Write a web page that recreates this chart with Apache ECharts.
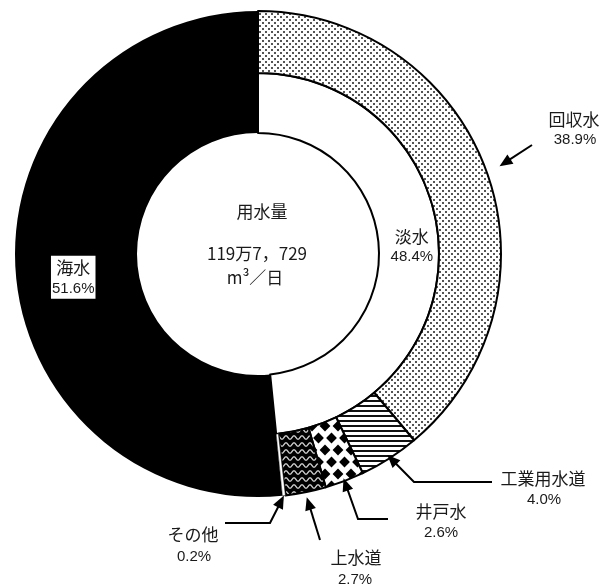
<!DOCTYPE html>
<html>
<head>
<meta charset="utf-8">
<script src="https://cdn.jsdelivr.net/npm/echarts@6/dist/echarts.min.js"></script>
<style>
  html, body { margin: 0; padding: 0; background: #fff; }
  #chart { width: 602px; height: 586px; }
</style>
</head>
<body>
<div id="chart"></div>
<script>
// ---- data ----
const sourceNames = ['回収水', '工業用水道', '井戸水', '上水道', 'その他'];
const sourceValues = [38.9, 4.0, 2.6, 2.7, 0.2];
const freshName = '淡水';
const freshValue = 48.4;
const seaName = '海水';
const seaValue = 51.6;
const totalTitle = '用水量';
const totalAmount = '119万7，729';
const totalUnit = 'm³／日';

// ---- layout ----
const CX = 258, CY = 254;
const R_IN = 121, R_MID = 181, R_OUT = 243;
const NAME_FONT = '"Noto Sans CJK JP", sans-serif';
const NUM_FONT = '"Liberation Sans", Arial, sans-serif';
const TEXT_COLOR = '#1a1a1a';

// callout leader paths (points before the arrow tip) and label anchors
const calloutLayout = [
  { tail: [[532, 145]], tipR: 257, nameAt: [574, 120], pctAt: [575, 140] },
  { tail: [[492, 482], [414, 482]], tipR: 239, nameAt: [543, 479], pctAt: [544, 500] },
  { tail: [[388, 519], [358, 519]], tipR: 240, nameAt: [441, 512], pctAt: [441, 533] },
  { tail: [[320, 540]], tipR: 248, nameAt: [356, 558], pctAt: [355, 580] },
  { tail: [[225, 523], [270, 523]], tipR: 243, nameAt: [193, 535], pctAt: [194, 557] }
];

// ---- fill patterns ----
function makeTile(w, h, draw) {
  const c = document.createElement('canvas');
  c.width = w; c.height = h;
  draw(c.getContext('2d'), w, h);
  return c;
}
const dotTile = makeTile(6, 6, (g, w, h) => {
  g.fillStyle = '#fff'; g.fillRect(0, 0, w, h);
  g.fillStyle = '#555';
  g.fillRect(1, 1, 2, 2);
  g.fillRect(4, 4, 2, 2);
});
const lineTile = makeTile(4, 5, (g, w, h) => {
  g.fillStyle = '#fff'; g.fillRect(0, 0, w, h);
  g.fillStyle = '#111'; g.fillRect(0, 0, w, 2);
});
const diamondTile = makeTile(13, 24, (g, w, h) => {
  g.fillStyle = '#fff'; g.fillRect(0, 0, w, h);
  g.fillStyle = '#000';
  const d = 5.4;
  [[6.5, 6], [0, 18], [13, 18]].forEach(([x, y]) => {
    g.beginPath();
    g.moveTo(x, y - d); g.lineTo(x + d, y); g.lineTo(x, y + d); g.lineTo(x - d, y);
    g.closePath(); g.fill();
  });
});
const waveTile = makeTile(8, 7, (g, w, h) => {
  g.fillStyle = '#000'; g.fillRect(0, 0, w, h);
  g.strokeStyle = '#d0d0d0'; g.lineWidth = 1.3;
  g.beginPath();
  for (let x = -1; x <= w + 1; x += 0.5) {
    const y = 3.5 + 1.7 * Math.sin(2 * Math.PI * x / w);
    if (x === -1) g.moveTo(x, y); else g.lineTo(x, y);
  }
  g.stroke();
});
const sourceFills = [
  { image: dotTile, repeat: 'repeat' },
  { image: lineTile, repeat: 'repeat' },
  { image: diamondTile, repeat: 'repeat' },
  { image: waveTile, repeat: 'repeat' },
  '#fff'
];
const sourceBorders = [2, 2, 2, 2, 0.5];

// ---- callout graphics derived from the slice angles ----
const graphics = [];
let cum = 0;
sourceValues.forEach((v, i) => {
  const mid = cum + v / 2;
  cum += v;
  const L = calloutLayout[i];
  const a = mid / 100 * 2 * Math.PI;
  const tip = [CX + L.tipR * Math.sin(a), CY - L.tipR * Math.cos(a)];
  const prev = L.tail[L.tail.length - 1];
  const dx = tip[0] - prev[0], dy = tip[1] - prev[1];
  const len = Math.hypot(dx, dy);
  const ux = dx / len, uy = dy / len;
  const headL = 13, headW = 5.5;
  const base = [tip[0] - ux * headL, tip[1] - uy * headL];
  graphics.push({
    type: 'polyline', z: 10,
    shape: { points: L.tail.concat([[tip[0] - ux * (headL - 2), tip[1] - uy * (headL - 2)]]) },
    style: { stroke: '#000', lineWidth: 2, fill: null }
  });
  graphics.push({
    type: 'polygon', z: 10,
    shape: { points: [tip, [base[0] - uy * headW, base[1] + ux * headW], [base[0] + uy * headW, base[1] - ux * headW]] },
    style: { fill: '#000' }
  });
  graphics.push({
    type: 'text', z: 10, x: L.nameAt[0], y: L.nameAt[1],
    style: { text: sourceNames[i], fontSize: 17, fontFamily: NAME_FONT, fill: TEXT_COLOR, align: 'center', verticalAlign: 'middle' }
  });
  graphics.push({
    type: 'text', z: 10, x: L.pctAt[0], y: L.pctAt[1],
    style: { text: v.toFixed(1) + '%', fontSize: 15, fontFamily: NUM_FONT, fill: TEXT_COLOR, align: 'center', verticalAlign: 'middle' }
  });
});

// centre caption
[[totalTitle, 262, 212], [totalAmount, 257, 254], [totalUnit, 255, 278]].forEach(([t, x, y]) => {
  graphics.push({
    type: 'text', z: 10, x, y,
    style: { text: t, fontSize: 17, fontFamily: NAME_FONT, fill: TEXT_COLOR, align: 'center', verticalAlign: 'middle' }
  });
});

const labelRich = {
  n: { fontSize: 17, fontFamily: NAME_FONT, color: TEXT_COLOR, lineHeight: 22, align: 'center' },
  p: { fontSize: 15, fontFamily: NUM_FONT, color: TEXT_COLOR, lineHeight: 20, align: 'center' }
};

const chart = echarts.init(document.getElementById('chart'), null, { renderer: 'canvas' });
chart.setOption({
  animation: false,
  backgroundColor: '#fff',
  graphic: graphics,
  series: [
    {
      // sea water spans both rings
      type: 'pie', center: [CX, CY], radius: [R_IN, R_OUT], startAngle: 90, clockwise: true,
      silent: true, z: 1, labelLine: { show: false }, avoidLabelOverlap: false,
      labelLayout: { dy: 14 },
      data: [
        { name: freshName, value: freshValue, itemStyle: { color: 'transparent', borderWidth: 0 }, label: { show: false } },
        {
          name: seaName, value: seaValue, itemStyle: { color: '#000', borderWidth: 0 },
          label: {
            show: true, position: 'inside', backgroundColor: '#fff', padding: [1, 1, 0, 1],
            formatter: '{n|{b}}\n{p|{c}%}', rich: labelRich
          }
        }
      ]
    },
    {
      // fresh water inner ring
      type: 'pie', center: [CX, CY], radius: [R_IN, R_MID], startAngle: 90, clockwise: true,
      silent: true, z: 2, labelLine: { show: false }, avoidLabelOverlap: false,
      data: [
        {
          name: freshName, value: freshValue, itemStyle: { color: '#fff', borderColor: '#000', borderWidth: 2 },
          label: { show: true, position: 'inside', formatter: '{n|{b}}\n{p|{c}%}', rich: labelRich }
        },
        { name: seaName, value: seaValue, itemStyle: { color: 'transparent', borderWidth: 0 }, label: { show: false } }
      ]
    },
    {
      // sources of fresh water, outer ring
      type: 'pie', center: [CX, CY], radius: [R_MID, R_OUT], startAngle: 90, clockwise: true,
      silent: true, z: 3, label: { show: false }, labelLine: { show: false },
      data: sourceNames.map((n, i) => ({
        name: n, value: sourceValues[i],
        itemStyle: { color: sourceFills[i], borderColor: '#000', borderWidth: sourceBorders[i] }
      })).concat([{ name: seaName, value: seaValue, itemStyle: { color: 'transparent', borderWidth: 0 } }])
    }
  ]
});
</script>
</body>
</html>
